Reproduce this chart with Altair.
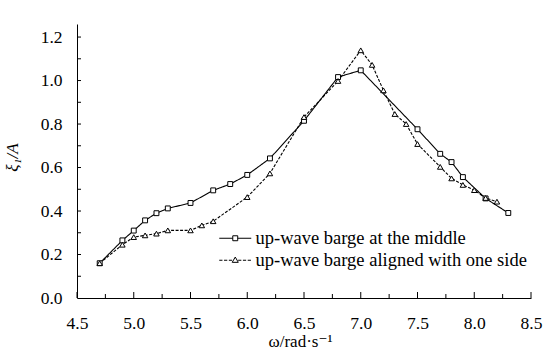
import altair as alt
import pandas as pd

names = ["up-wave barge at the middle", "up-wave barge aligned with one side"]

mid_x = [4.7, 4.9, 5.0, 5.1, 5.2, 5.3, 5.5, 5.7, 5.85, 6.0, 6.2, 6.5, 6.8, 7.0,
         7.5, 7.7, 7.8, 7.9, 8.1, 8.3]
mid_y = [0.16, 0.265, 0.31, 0.357, 0.39, 0.412, 0.437, 0.495, 0.524, 0.566, 0.642,
         0.815, 1.016, 1.047, 0.776, 0.663, 0.625, 0.556, 0.458, 0.391]

side_x = [4.7, 4.9, 5.0, 5.1, 5.2, 5.3, 5.5, 5.6, 5.7, 6.0, 6.2, 6.5, 6.8, 7.0,
          7.1, 7.2, 7.3, 7.4, 7.5, 7.7, 7.8, 7.9, 8.0, 8.1, 8.2]
side_y = [0.16, 0.245, 0.28, 0.288, 0.296, 0.311, 0.311, 0.334, 0.353, 0.464, 0.573,
          0.832, 0.998, 1.139, 1.072, 0.955, 0.846, 0.8, 0.708, 0.603, 0.55, 0.52,
          0.496, 0.46, 0.443]

x_labels = [4.5, 5.0, 5.5, 6.0, 6.5, 7.0, 7.5, 8.0, 8.5]
x_ticks = [4.5, 4.75, 5.0, 5.25, 5.5, 5.75, 6.0, 6.25, 6.5, 6.75, 7.0, 7.25,
           7.5, 7.75, 8.0, 8.25, 8.5]
y_labels = [0.0, 0.2, 0.4, 0.6, 0.8, 1.0, 1.2]
y_ticks = [0.1, 0.2, 0.3, 0.4, 0.5, 0.6, 0.7, 0.8, 0.9, 1.0, 1.1, 1.2]

df = pd.concat([
    pd.DataFrame({"omega": mid_x, "value": mid_y, "series": names[0]}),
    pd.DataFrame({"omega": side_x, "value": side_y, "series": names[1]}),
])

W, H = 454, 274
X0, X1, Y1 = 4.5, 8.5, 1.26
FONT = "Liberation Serif, Times New Roman, DejaVu Serif, serif"

xscale = alt.Scale(domain=[X0, X1], nice=False, zero=False)
yscale = alt.Scale(domain=[0, Y1], nice=False, zero=True)

# inward tick lengths (pixels converted to data units)
px_y = Y1 / H
px_x = (X1 - X0) / W
xt_df = pd.DataFrame({
    "t": x_ticks,
    "y0": 0.0,
    "len": [(6 if t in x_labels else 4) * px_y for t in x_ticks],
})
yt_df = pd.DataFrame({"t": y_ticks, "x0": X0, "x1": X0 + 4 * px_x})

# legend symbol paths (line + marker), unit = 8px
def dashed(a, b, dash=0.4, gap=0.2):
    out = []
    p = a
    while p < b:
        q = min(p + dash, b)
        out.append(f"M{p:.3f},0H{q:.3f}")
        p = q + gap
    return "".join(out)

path_sq = "M-2,0H-0.31M0.31,0H2M-0.31,-0.31H0.31V0.31H-0.31Z"
path_tri = dashed(-2, -0.36) + dashed(0.36, 2) + "M0,-0.4L0.38,0.26L-0.38,0.26Z"

lines = alt.Chart(df).mark_line(color="black", strokeWidth=1.1).encode(
    x=alt.X("omega:Q", scale=xscale, axis=alt.Axis(
        orient="bottom", values=x_labels, format=".1f", ticks=False, tickSize=0,
        labelPadding=16, labelFont=FONT, labelFontSize=17.5, labelColor="black",
        labelFlush=False, labelOverlap=False,
        domainColor="black", domainWidth=1, grid=False,
        title="ω/rad·s⁻¹", titleFont=FONT, titleFontSize=17, titleFontWeight="normal",
        titleColor="black", titleX=223, titleY=48, titleBaseline="alphabetic")),
    y=alt.Y("value:Q", scale=yscale, axis=alt.Axis(
        orient="left", values=y_labels, format=".1f", ticks=False, tickSize=0,
        labelPadding=15, labelFont=FONT, labelFontSize=17.5, labelColor="black",
        labelFlush=False, labelOverlap=False,
        domainColor="black", domainWidth=1, grid=False,
        title="ξ₁/A", titleFont=FONT, titleFontSize=17, titleFontStyle="italic",
        titleFontWeight="normal", titleColor="black", titleAngle=270,
        titleX=-56, titleY=133, titleAlign="center", titleBaseline="bottom")),
    strokeDash=alt.StrokeDash("series:N", scale=alt.Scale(domain=names, range=[[1, 0], [3, 1.5]]),
                              legend=None),
    detail="series:N",
)

xtick_layer = alt.Chart(xt_df).mark_rule(color="black", strokeWidth=1).encode(
    x=alt.X("t:Q", scale=xscale),
    y=alt.Y("y0:Q", scale=yscale),
    y2="len:Q",
)

ytick_layer = alt.Chart(yt_df).mark_rule(color="black", strokeWidth=1).encode(
    x=alt.X("x0:Q", scale=xscale),
    x2="x1:Q",
    y=alt.Y("t:Q", scale=yscale),
)

points = alt.Chart(df).mark_point(filled=True, fill="white", stroke="black",
                                  strokeWidth=1, opacity=1).encode(
    x=alt.X("omega:Q", scale=xscale),
    y=alt.Y("value:Q", scale=yscale),
    shape=alt.Shape("series:N", scale=alt.Scale(domain=names, range=["square", "triangle-up"]),
                    legend=None),
    size=alt.Size("series:N", scale=alt.Scale(domain=names, range=[24, 30]), legend=None),
)

legend_layer = alt.Chart(df).transform_filter("false").mark_point(
    filled=False, stroke="black", strokeWidth=1, opacity=1).encode(
    x=alt.X("omega:Q", scale=xscale),
    y=alt.Y("value:Q", scale=yscale),
    shape=alt.Shape("series:N", scale=alt.Scale(domain=names, range=[path_sq, path_tri]),
                    legend=alt.Legend(
                        orient="none", legendX=149, legendY=205, title=None,
                        labelFont=FONT, labelFontSize=18.5, labelColor="black", labelLimit=0,
                        symbolSize=256, symbolStrokeWidth=1, symbolStrokeColor="black",
                        symbolOpacity=1, labelOffset=11, rowPadding=3, padding=0)),
)

chart = alt.layer(lines, xtick_layer, ytick_layer, points, legend_layer).resolve_scale(
    shape="independent", size="independent", strokeDash="independent"
).properties(
    width=W, height=H,
    autosize=alt.AutoSizeParams(type="none"),
    padding={"left": 77, "top": 24, "right": 13, "bottom": 53},
    background="white",
).configure_view(stroke=None)

chart.save("out.html", embed_options={"renderer": "svg", "actions": False})
